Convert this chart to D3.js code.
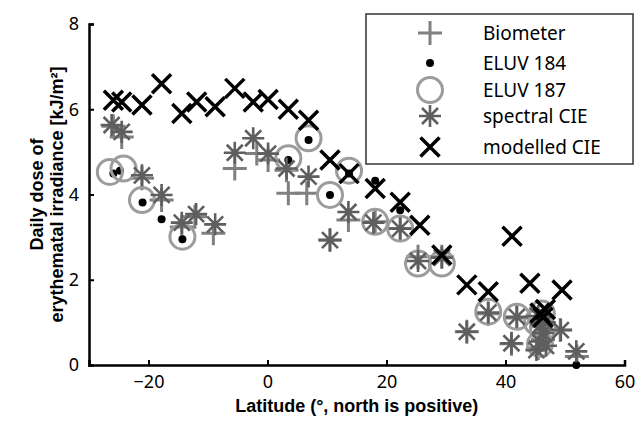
<!DOCTYPE html>
<html><head><meta charset="utf-8">
<script src="https://cdn.jsdelivr.net/npm/d3@7"></script>
<style>body{margin:0;background:#fff}svg{display:block}</style>
</head><body><svg id="c" width="637" height="432"></svg>
<script>
// ---- data (latitude, daily dose kJ/m²) ----
const xTicks = [-20, 0, 20, 40, 60];
const yTicks = [0, 2, 4, 6, 8];
const seriesNames = ["Biometer", "ELUV 184", "ELUV 187", "spectral CIE", "modelled CIE"];

const biometer = [[-25.9,5.6],[-24.5,5.35],[-21.1,4.38],[-17.8,3.87],[-14.4,3.24],[-12.2,3.48],[-9.1,3.09],
  [-5.5,4.61],[-1.8,4.96],[0.1,4.81],[3.5,4.03],[6.6,4.03],[3.2,4.57],[10.5,2.93],[13.6,3.40],[18.1,3.36],
  [22.3,3.2],[25.3,2.54],[29.3,2.54],[33.5,0.78],[37.1,1.2],[41.9,1.1],[41.0,0.5],[45.8,1.0],[46.3,0.6],
  [46.0,0.9],[45.5,0.4],[49.2,0.82],[52.0,0.2]];
const eluv184 = [[-25.9,4.49],[-24.8,4.56],[-21.0,3.81],[-17.8,3.42],[-14.3,2.95],[3.5,4.81],[6.9,5.28],
  [10.5,3.99],[13.7,4.49],[18.1,4.32],[22.3,3.63],[46.0,1.2],[51.9,0.0]];
const eluv187 = [[-26.5,4.53],[-24.2,4.61],[-21.1,3.87],[-14.3,3.01],[3.5,4.85],[6.9,5.32],[10.5,3.99],
  [13.7,4.56],[18.1,3.36],[22.3,3.20],[25.3,2.38],[29.3,2.38],[37.1,1.25],[41.9,1.13],[46.1,1.21],[45.8,0.49],
  [46.3,0.85],[45.3,1.0]];
const spectral = [[-26.2,5.63],[-24.5,5.47],[-21.1,4.45],[-17.8,3.99],[-14.4,3.34],[-12.0,3.54],[-8.8,3.30],
  [-5.5,4.98],[-2.4,5.32],[0.1,4.96],[3.2,4.61],[6.9,4.42],[10.5,2.93],[13.6,3.59],[17.8,3.34],[22.3,3.20],
  [25.3,2.44],[29.3,2.52],[33.5,0.78],[37.1,1.23],[41.9,1.13],[41.0,0.51],[45.5,1.15],[46.0,0.95],[46.3,0.75],
  [45.8,0.55],[46.6,1.0],[45.2,0.35],[46.8,0.45],[49.3,0.82],[51.9,0.32]];
const modelled = [[-25.9,6.21],[-24.5,6.17],[-21.1,6.10],[-17.8,6.60],[-14.4,5.90],[-11.9,6.17],[-8.8,6.06],
  [-5.5,6.49],[-2.4,6.17],[0.1,6.23],[3.5,6.00],[6.9,5.74],[10.5,4.81],[13.7,4.49],[18.1,4.14],[22.3,3.82],
  [25.6,3.28],[29.3,2.58],[33.5,1.88],[37.1,1.72],[41.1,3.02],[44.1,1.92],[45.8,1.22],[46.3,1.12],[46.7,1.3],
  [49.5,1.76]];

const svg = d3.select("#c");
const x = d3.scaleLinear().domain([-30, 60]).range([89, 624.5]);
const y = d3.scaleLinear().domain([0, 8]).range([365, 24]);

const tickFont = "'Noto Sans', 'Open Sans', sans-serif";
const boldFont = "'Liberation Sans', Arial, sans-serif";

// axes
const xAxis = svg.append("g").attr("transform", `translate(0,${y(0)})`)
  .call(d3.axisBottom(x).tickValues(xTicks).tickSize(-5).tickPadding(10).tickFormat(d => d < 0 ? "\u2212" + Math.abs(d) : d));
const yAxis = svg.append("g").attr("transform", `translate(${x(-30)},0)`)
  .call(d3.axisLeft(y).tickValues(yTicks).tickSize(-5).tickPadding(10));
[xAxis, yAxis].forEach(g => {
  g.select(".domain").attr("stroke", "#000").attr("stroke-width", 2.5);
  g.selectAll(".tick line").attr("stroke", "#000").attr("stroke-width", 2);
  g.selectAll("text").attr("font-family", tickFont).attr("font-size", 18).attr("fill", "#000");
});

// marker drawers
const sym = {
  plus: (g, c) => g.append("path").attr("d", "M-12,0H12M0,-12V12").attr("stroke", c).attr("stroke-width", 3).attr("fill", "none"),
  dot: (g, c) => g.append("circle").attr("r", 4).attr("fill", c),
  ring: (g, c) => g.append("circle").attr("r", 12.5).attr("fill", "none").attr("stroke", c).attr("stroke-width", 3),
  star: (g, c) => g.append("path").attr("d", "M-11,0H11M0,-11V11M-8,-8L8,8M-8,8L8,-8").attr("stroke", c).attr("stroke-width", 2.6).attr("fill", "none"),
  cross: (g, c) => g.append("path").attr("d", "M-9.5,-9.5L9.5,9.5M-9.5,9.5L9.5,-9.5").attr("stroke", c).attr("stroke-width", 3.5).attr("fill", "none")
};
const series = [
  {data: biometer, s: "plus", c: "#808080"},
  {data: eluv184, s: "dot", c: "#000"},
  {data: eluv187, s: "ring", c: "#9c9c9c"},
  {data: spectral, s: "star", c: "#5e5e5e"},
  {data: modelled, s: "cross", c: "#000"}
];
const plot = svg.append("g");
series.forEach(se => {
  plot.append("g").selectAll("g").data(se.data).join("g")
    .attr("transform", d => `translate(${x(d[0])},${y(d[1])})`)
    .each(function() { sym[se.s](d3.select(this), se.c); });
});

// legend
const lg = svg.append("g");
lg.append("rect").attr("x", 366).attr("y", 14).attr("width", 267).attr("height", 150)
  .attr("fill", "#fff").attr("stroke", "#333").attr("stroke-width", 1.5);
const rowY = [33, 63, 90, 116, 147];
series.forEach((se, i) => {
  const g = lg.append("g").attr("transform", `translate(430,${rowY[i]})`);
  sym[se.s](g, se.c);
  lg.append("text").attr("x", 483).attr("y", rowY[i]).attr("dy", "0.35em")
    .attr("font-family", tickFont).attr("font-size", 19).text(seriesNames[i]);
});

// titles
svg.append("text").attr("x", (x(-30) + x(60)) / 2).attr("y", 412).attr("text-anchor", "middle")
  .attr("font-family", boldFont).attr("font-weight", "bold").attr("font-size", 18).text("Latitude (°, north is positive)");
const yt = svg.append("text").attr("transform", `translate(37,${(y(0)+y(8))/2}) rotate(-90)`)
  .attr("text-anchor", "middle").attr("font-family", boldFont).attr("font-weight", "bold").attr("font-size", 18);
yt.append("tspan").attr("x", 0).attr("dy", "0.35em").text("Daily dose of");
yt.append("tspan").attr("x", 0).attr("dy", "1.1em").text("erythematal irradiance [kJ/m²]");
</script></body></html>
